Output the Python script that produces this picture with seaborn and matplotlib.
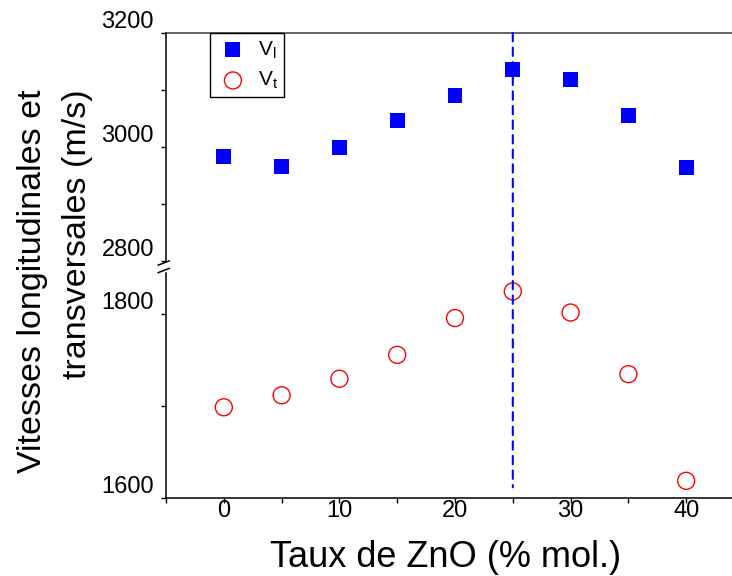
import numpy as np
import pandas as pd
import seaborn as sns
import matplotlib.pyplot as plt
from matplotlib.patches import ConnectionPatch
from matplotlib.lines import Line2D

# ZnO content (% mol.) and measured sound velocities (m/s)
zno = [0, 5, 10, 15, 20, 25, 30, 35, 40]
v_l = [2984, 2966, 2999, 3046, 3090, 3136, 3119, 3056, 2964]
v_t = [1699, 1712, 1730, 1756, 1796, 1825, 1802, 1735, 1619]

upper_ticks = [2800, 3000, 3200]
upper_minor = [2900, 3100]
lower_ticks = [1600, 1800]
lower_minor = [1700]
x_ticks = [0, 10, 20, 30, 40]
x_minor = [-5, 5, 15, 25, 35, 45]

peak_x = 25
peak_line_bottom = 1612

sns.set_theme(style="ticks")
plt.rcParams["font.family"] = ["Liberation Sans", "DejaVu Sans"]
plt.rcParams["mathtext.fontset"] = "custom"
plt.rcParams["mathtext.rm"] = "Liberation Sans"
plt.rcParams["mathtext.it"] = "Liberation Sans:italic"
plt.rcParams["text.color"] = "black"

W, H = 732, 576
fig = plt.figure(figsize=(W / 100, H / 100), dpi=100)
fig.patch.set_facecolor("white")


def px_axes(left, top, right, bottom):
    return fig.add_axes([left / W, 1 - bottom / H, (right - left) / W, (bottom - top) / H])


ax_up = px_axes(166, 33, 744, 261)
ax_lo = px_axes(166, 273, 744, 498.3)

df = pd.DataFrame({"zno": zno, "v_l": v_l, "v_t": v_t})

sns.scatterplot(data=df, x="zno", y="v_l", ax=ax_up, marker="s", s=115,
                color="#0000ff", edgecolor="none", linewidth=0,
                label=r"V$_\mathrm{l}$", legend=False, zorder=3)
sns.scatterplot(data=df, x="zno", y="v_t", ax=ax_lo, marker="o", s=150,
                facecolor="none", edgecolor="#ff0000", linewidth=1.0,
                label=r"V$_\mathrm{t}$", legend=False, zorder=3)

for ax in (ax_up, ax_lo):
    ax.set_xlim(-5, 45)
    ax.set_xlabel("")
    ax.set_ylabel("")
    ax.spines["right"].set_visible(False)
    for sp in ax.spines.values():
        sp.set_linewidth(1.1)
        sp.set_color("black")

ax_up.set_ylim(2800, 3200)
ax_lo.set_ylim(1600, 1845)

ax_up.spines["bottom"].set_visible(False)
ax_up.spines["top"].set_color("#3a3a3a")
ax_lo.spines["top"].set_visible(False)

ax_up.set_yticks(upper_ticks)
ax_up.set_yticks(upper_minor, minor=True)
ax_lo.set_yticks(lower_ticks)
ax_lo.set_yticks(lower_minor, minor=True)
ax_up.tick_params(axis="x", which="both", bottom=False, top=False, labelbottom=False)
ax_lo.set_xticks(x_ticks)
ax_lo.set_xticks(x_minor, minor=True)

for ax in (ax_up, ax_lo):
    ax.tick_params(axis="y", which="both", direction="out", length=3.6, width=1.0,
                   labelsize=17, pad=5, colors="black")
ax_lo.tick_params(axis="x", which="both", direction="out", length=3.6, width=1.0,
                  labelsize=17, pad=-2.5, colors="black")

for ax in (ax_up, ax_lo):
    for lbl in ax.get_yticklabels():
        lbl.set_verticalalignment("bottom")

# vertical dashed marker at the velocity maximum, spanning both panels
con = ConnectionPatch(xyA=(peak_x, 3200), coordsA=ax_up.transData,
                      xyB=(peak_x, peak_line_bottom), coordsB=ax_lo.transData,
                      color="#0000ff", linewidth=1.5, linestyle=(0, (4, 3)), zorder=2)
fig.add_artist(con)

# axis break marks between the two panels
up_box = ax_up.get_position()
lo_box = ax_lo.get_position()
sx = up_box.x0
dxl, dxr, dy = 8 / W, 3.5 / W, 2.2 / H
for yc in (up_box.y0 - 2 / H, lo_box.y1 + 2.5 / H):
    fig.add_artist(Line2D([sx - dxl, sx + dxr], [yc - dy, yc + dy], color="black",
                          linewidth=1.1, transform=fig.transFigure))

# legend combining both series
handles = [ax_up.collections[0], ax_lo.collections[0]]
leg = ax_up.legend(handles=handles, labels=[r"V$_\mathrm{l}$", r"V$_\mathrm{t}$"],
                   loc="upper left", bbox_to_anchor=(210 / W, 1 - 33 / H),
                   bbox_transform=fig.transFigure, borderaxespad=0, fontsize=15,
                   frameon=True, fancybox=False, handlelength=1.6, handletextpad=0.4,
                   borderpad=0.3, labelspacing=0.45)
leg.get_frame().set_edgecolor("black")
leg.get_frame().set_linewidth(1.0)
leg.get_frame().set_alpha(1)

fig.text(55 / W, 1 - 281 / H, "Vitesses longitudinales et\ntransversales (m/s)",
         rotation=90, ha="center", va="center", fontsize=24.5, linespacing=1.55,
         multialignment="right", color="black")
fig.text(446 / W, 1 - 566.7 / H, "Taux de ZnO (% mol.)", ha="center",
         va="baseline", fontsize=26, color="black")

fig.savefig("out.png", dpi=100, facecolor="white")
